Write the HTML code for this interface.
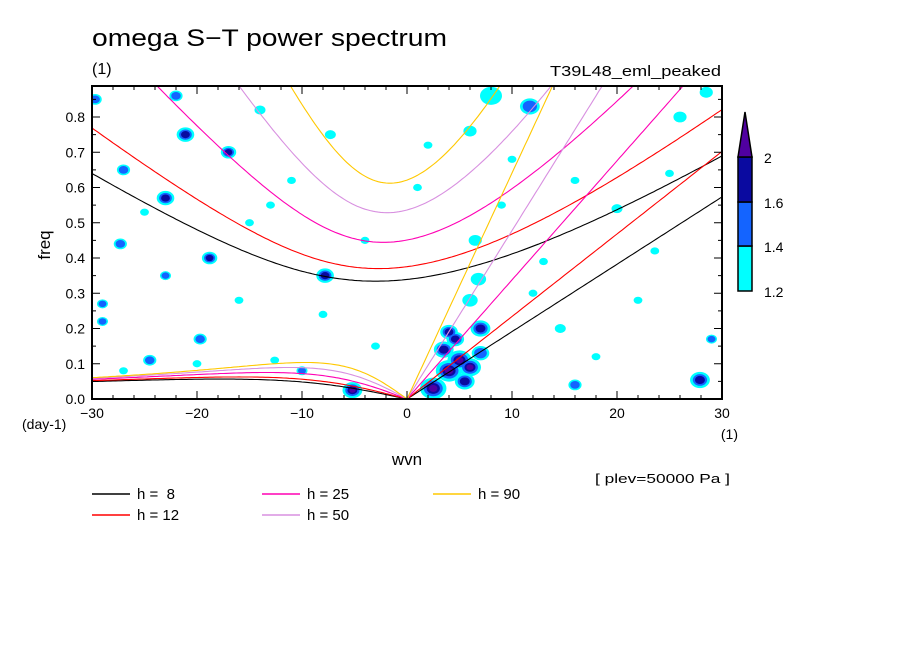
<!DOCTYPE html>
<html><head><meta charset="utf-8"><style>
html,body{margin:0;padding:0;background:#fff;}
svg{display:block;font-family:"Liberation Sans","DejaVu Sans",sans-serif;}
</style></head><body>
<svg id="chart" width="904" height="654" viewBox="0 0 904 654" xmlns="http://www.w3.org/2000/svg">
<rect width="904" height="654" fill="#fff"/>
<text x="92" y="46" font-size="24" textLength="355" lengthAdjust="spacingAndGlyphs">omega S−T power spectrum</text>
<text x="92" y="74" font-size="16">(1)</text>
<text x="550" y="76" font-size="15" textLength="171" lengthAdjust="spacingAndGlyphs">T39L48_eml_peaked</text>
<defs><clipPath id="plotclip"><rect x="92" y="86" width="630" height="313"/></clipPath></defs>
<g id="blobs" clip-path="url(#plotclip)"></g>
<g id="curves" clip-path="url(#plotclip)"></g>
<rect x="92" y="86" width="630" height="313" fill="none" stroke="#000" stroke-width="2"/>
<g id="axes"></g>
<text x="50" y="245" font-size="17" text-anchor="middle" transform="rotate(-90 50 245)">freq</text>
<text x="22" y="429" font-size="14">(day-1)</text>
<text x="738" y="439" font-size="14" text-anchor="end">(1)</text>
<text x="407" y="465" font-size="17" text-anchor="middle">wvn</text>
<text x="595" y="483" font-size="13" textLength="135" lengthAdjust="spacingAndGlyphs">[ plev=50000 Pa ]</text>
<g id="colorbar"></g>
<g id="legend"></g>
</svg>
<script>
const depths = [8, 12, 25, 50, 90];
const depthColors = ['#000000', '#ff0000', '#ff00b4', '#d890e0', '#ffc800'];
const xTicks = [-30, -20, -10, 0, 10, 20, 30];
const yTicks = [0.0, 0.1, 0.2, 0.3, 0.4, 0.5, 0.6, 0.7, 0.8];
const levelColors = ['#00ffff', '#1464ff', '#0a0aa0', '#5000a0'];
const levelTicks = [1.2, 1.4, 1.6, 2];
// blobs: [wvn, freq, level(1-4), size]
const blobWvn  = [-21.1,-17,-23,-27,-29.7,-18.8,-27.3,-7.8,-29,-29,-23,-5.2,2.5,4,5,6,7,4.6,6,6.8,6.5,8,11.7,27.9,16,20,29,26,28.5,6,-14,-7.3,-22,-16,-19.7,-10,-15,14.6,22,23.6,13,-24.5,-12.6,-25,-11,-3,1,10,18,25,-20,-8,-27,2,12,16,-13,-4,9,3.5,5.5,7,4];
const blobFreq = [0.75,0.70,0.57,0.65,0.85,0.40,0.44,0.35,0.27,0.22,0.35,0.025,0.03,0.08,0.11,0.09,0.20,0.17,0.28,0.34,0.45,0.86,0.83,0.054,0.04,0.54,0.17,0.80,0.87,0.76,0.82,0.75,0.86,0.28,0.17,0.08,0.50,0.20,0.28,0.42,0.39,0.11,0.11,0.53,0.62,0.15,0.60,0.68,0.12,0.64,0.10,0.24,0.08,0.72,0.30,0.62,0.55,0.45,0.55,0.14,0.05,0.13,0.19];
const blobLevel= [3,3,3,2,2,3,2,3,2,2,2,4,4,4,4,4,3,3,1,1,1,1,2,3,2,1,2,1,1,1,1,1,2,1,2,2,1,1,1,1,1,2,1,1,1,1,1,1,1,1,1,1,1,1,1,1,1,1,1,3,3,2,3];
const blobSize = [8,7,8,6,6,7,6,8,5,5,5,9,12,12,11,10,9,8,7,7,6,10,9,9,6,5,5,6,6,6,5,5,6,4,6,5,4,5,4,4,4,6,4,4,4,4,4,4,4,4,4,4,4,4,4,4,4,4,4,9,9,8,8];

const NS='http://www.w3.org/2000/svg';
const X0=92,X1=722,Y0=399,Y1=86,FMAX=(399-86)/352.5;
const xs=k=>X0+(k+30)/60*(X1-X0);
const ys=f=>Y0-f/FMAX*(Y0-Y1);
function mk(tag,attrs,parent){const e=document.createElementNS(NS,tag);for(const a in attrs)e.setAttribute(a,attrs[a]);parent.appendChild(e);return e;}

const bg=document.getElementById('blobs');
const fr=[1,0.72,0.5,0.32];
for(let l=0;l<4;l++){
  for(let i=0;i<blobWvn.length;i++){
    if(blobLevel[i]<=l) continue;
    const cx=xs(blobWvn[i]),cy=ys(blobFreq[i]),r=blobSize[i];
    const e=mk('ellipse',{cx:cx,cy:cy,rx:r*fr[l]*1.1,ry:r*fr[l]*0.9,fill:levelColors[l]},bg);
    
    
  }
}

const beta=2.29e-11,a=6.371e6,g=9.8;
const toCpd=w=>w*86400/(2*Math.PI);
function cubic(w,kk,c,n){return w*w*w-(kk*kk*c*c+(2*n+1)*beta*c)*w-beta*kk*c*c;}
function dcubic(w,kk,c,n){return 3*w*w-(kk*kk*c*c+(2*n+1)*beta*c);}
function newton(w,kk,c,n){for(let i=0;i<60;i++){w-=cubic(w,kk,c,n)/dcubic(w,kk,c,n);}return w;}
const cg=document.getElementById('curves');
depths.forEach((h,di)=>{
  const c=Math.sqrt(g*h);
  let kel=[],ig=[],er=[];
  for(let k=-30;k<=30.001;k+=0.25){
    const kk=k/a;
    const wig=newton(Math.sqrt(3*beta*c+kk*kk*c*c)*1.5,kk,c,1);
    ig.push(xs(k).toFixed(1)+','+ys(toCpd(wig)).toFixed(1));
    if(k>=0) kel.push(xs(k).toFixed(1)+','+ys(toCpd(kk*c)).toFixed(1));
    if(k<=0){const w=-beta*kk/(kk*kk+3*beta/c);er.push(xs(k).toFixed(1)+','+ys(toCpd(w)).toFixed(1));}
  }
  [['ig',ig],['kelvin',kel],['rossby',er]].forEach(([nm,pts])=>{
    const p=mk('polyline',{points:pts.join(' '),fill:'none',stroke:depthColors[di],'stroke-width':1.1},cg);
    
    
  });
});

const ag=document.getElementById('axes');
for(let k=-30;k<=30;k+=2){
  const major=k%10===0;
  const t=mk('line',{x1:xs(k),x2:xs(k),y1:Y0,y2:Y0-(major?8:4),stroke:'#000','stroke-width':1},ag);
  
  const t2=mk('line',{x1:xs(k),x2:xs(k),y1:Y1,y2:Y1+(major?8:4),stroke:'#000','stroke-width':1},ag);
  
}
xTicks.forEach(v=>{
  const t=mk('text',{x:xs(v),y:418,'font-size':14,'text-anchor':'middle'},ag);
  t.textContent=(v<0?'−':'')+Math.abs(v);
  
});
for(let f=0;f<=0.88;f+=0.05){
  const major=Math.abs(f*10-Math.round(f*10))<1e-6;
  const t=mk('line',{x1:X0,x2:X0+(major?8:4),y1:ys(f),y2:ys(f),stroke:'#000'},ag);
  
  const t2=mk('line',{x1:X1,x2:X1-(major?8:4),y1:ys(f),y2:ys(f),stroke:'#000'},ag);
  
}
yTicks.forEach(v=>{
  const t=mk('text',{x:85,y:ys(v)+5,'font-size':14,'text-anchor':'end'},ag);
  t.textContent=v.toFixed(1);
  
});

const cb=document.getElementById('colorbar');
const cbY=[291,246,202,157];
for(let i=0;i<3;i++){
  const r=mk('rect',{x:738,y:cbY[i+1],width:14,height:cbY[i]-cbY[i+1],fill:levelColors[i],stroke:'#000','stroke-width':1.5},cb);
  
}
const tri=mk('polygon',{points:'738,157 752,157 745,112',fill:levelColors[3],stroke:'#000','stroke-width':1.5},cb);

levelTicks.forEach((v,i)=>{
  const t=mk('text',{x:764,y:cbY[i]+6,'font-size':14},cb);
  t.textContent=String(v);
  
});

const lg=document.getElementById('legend');
const legPos=[[92,494],[92,515],[262,494],[262,515],[433,494]];
depths.forEach((h,i)=>{
  const [x,y]=legPos[i];
  const l=mk('line',{x1:x,x2:x+38,y1:y,y2:y,stroke:depthColors[i],'stroke-width':1.5},lg);
  
  const t=mk('text',{x:x+45,y:y+5,'font-size':15},lg);
  t.setAttribute('style','white-space:pre');
  t.textContent='h = '+(h<10?' ':'')+h;
  
});
</script>
</body></html>
